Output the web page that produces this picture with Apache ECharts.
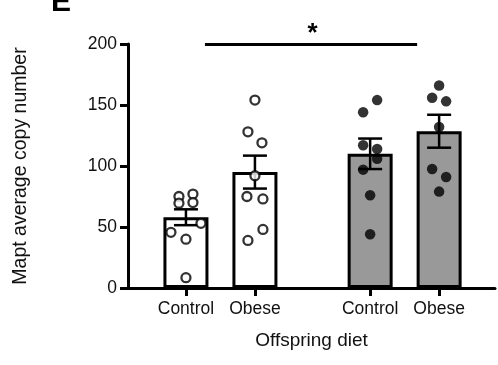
<!DOCTYPE html>
<html><head><meta charset="utf-8">
<script src="https://cdn.jsdelivr.net/npm/echarts@6/dist/echarts.min.js"></script>
<style>html,body{margin:0;padding:0;background:#fff}#c{width:498px;height:365px}</style>
</head><body><div id="c"></div>
<script>
// ---- data ----
const categories = ['Control', 'Obese', 'Control', 'Obese'];
const barMeans = [58, 95, 110, 128.5];
const barSEM = [6.5, 13.5, 12.5, 13.5];
const ptsControlLean = [75, 69.5, 77, 70, 45.6, 40, 53, 8.5];
const ptsObeseLean = [154, 128, 119, 92, 75, 73, 39, 48];
const ptsControlObese = [154, 144, 117, 114, 106, 97, 76, 44];
const ptsObeseObese = [166, 156, 153, 132, 97.5, 91, 79];
const yTicks = [0, 50, 100, 150, 200];
const xTitle = 'Offspring diet';
const yTitle = 'Mapt average copy number';
const sigLabel = '*';

// ---- layout (not data) ----
const slots = [1, 2, 3.67, 4.67];
const pxPerUnit = 69;
const jitterPx = [
  [-7, -7, 7, 7, -15, 0, 15, 0],
  [0, -7, 7, 0, -8, 8, -7, 8],
  [7, -7, -7, 7, 7, -7, 0, 0],
  [0, -7, 7, 0, -7, 7, 0]
];
const groups = [ptsControlLean, ptsObeseLean, ptsControlObese, ptsObeseObese];
const barColors = ['#ffffff', '#ffffff', '#999999', '#999999'];
const FONT = 'Liberation Sans, Arial, sans-serif';

function pts(gi) {
  return groups[gi].map((v, i) => [slots[gi] + jitterPx[gi][i] / pxPerUnit, v]);
}

const chart = echarts.init(document.getElementById('c'), null, {renderer: 'canvas'});
const option = {
  animation: false,
  backgroundColor: '#fff',
  grid: {left: 128, right: 3, top: 44, bottom: 77, containLabel: false},
  xAxis: {
    type: 'value', min: 0.16, max: 5.48,
    splitLine: {show: false},
    axisLine: {show: true, lineStyle: {color: '#000', width: 3}},
    axisTick: {show: true, customValues: slots, length: 8, lineStyle: {color: '#000', width: 3}},
    axisLabel: {
      show: true, customValues: slots, margin: 12,
      fontFamily: FONT, fontSize: 17.5, color: '#111',
      formatter: v => { const i = slots.findIndex(s => Math.abs(s - v) < 1e-6); return i >= 0 ? categories[i] : ''; }
    },
    name: xTitle, nameLocation: 'middle', nameGap: 43,
    nameTextStyle: {fontFamily: FONT, fontSize: 19, color: '#111'}
  },
  yAxis: {
    type: 'value', min: 0, max: 200, interval: 50,
    splitLine: {show: false},
    axisLine: {show: true, lineStyle: {color: '#000', width: 3}},
    axisTick: {show: true, length: 8, lineStyle: {color: '#000', width: 3}},
    axisLabel: {margin: 11, fontFamily: FONT, fontSize: 17.5, color: '#111',
      formatter: v => yTicks.includes(v) ? String(v) : ''},
    name: yTitle, nameLocation: 'middle', nameGap: 97, nameRotate: 90,
    nameTextStyle: {fontFamily: FONT, fontSize: 19.5, color: '#111'}
  },
  series: [
    {
      type: 'bar', barWidth: 45, z: 2,
      data: barMeans.map((m, i) => ({value: [slots[i], m], itemStyle: {color: barColors[i], borderColor: '#000', borderWidth: 3}})),
    },
    {
      type: 'custom', z: 3,
      data: barMeans.map((m, i) => [slots[i], m - barSEM[i], m + barSEM[i]]),
      renderItem: (params, api) => {
        const x = api.value(0);
        const lo = api.coord([x, api.value(1)]);
        const hi = api.coord([x, api.value(2)]);
        const hw = 12;
        const st = {stroke: '#000', lineWidth: 2.5};
        return {type: 'group', children: [
          {type: 'line', shape: {x1: lo[0], y1: lo[1], x2: hi[0], y2: hi[1]}, style: st},
          {type: 'line', shape: {x1: lo[0] - hw, y1: lo[1], x2: lo[0] + hw, y2: lo[1]}, style: st},
          {type: 'line', shape: {x1: hi[0] - hw, y1: hi[1], x2: hi[0] + hw, y2: hi[1]}, style: st}
        ]};
      }
    },
    {type: 'scatter', z: 4, symbol: 'circle', symbolSize: 9, data: pts(0), itemStyle: {color: '#fff', borderColor: '#000', borderWidth: 2.3}},
    {type: 'scatter', z: 4, symbol: 'circle', symbolSize: 9, data: pts(1), itemStyle: {color: '#fff', borderColor: '#000', borderWidth: 2.3}},
    {type: 'scatter', z: 4, symbol: 'circle', symbolSize: 10.5, data: pts(2), itemStyle: {color: '#000'}},
    {type: 'scatter', z: 4, symbol: 'circle', symbolSize: 10.5, data: pts(3), itemStyle: {color: '#000'},
      markLine: {
        silent: true, symbol: 'none', animation: false,
        lineStyle: {color: '#000', width: 3, type: 'solid'},
        label: {show: false},
        data: [[{coord: [slots[0] + 19 / pxPerUnit, 200]}, {coord: [slots[3] - 22 / pxPerUnit, 200]}]]
      }
    }
  ]
};
chart.setOption(option);

const starX = chart.convertToPixel({xAxisIndex: 0}, (slots[1] + slots[2]) / 2);
chart.setOption({
  graphic: [
    {type: 'text', left: 51, top: -12, style: {text: 'E', fontFamily: FONT, fontWeight: 'bold', fontSize: 30, fill: '#000'}},
    {type: 'text', x: starX, y: 34, style: {text: sigLabel, fontFamily: FONT, fontWeight: 'bold', fontSize: 26, fill: '#000', align: 'center', verticalAlign: 'middle'}}
  ]
});
</script>
</body></html>
